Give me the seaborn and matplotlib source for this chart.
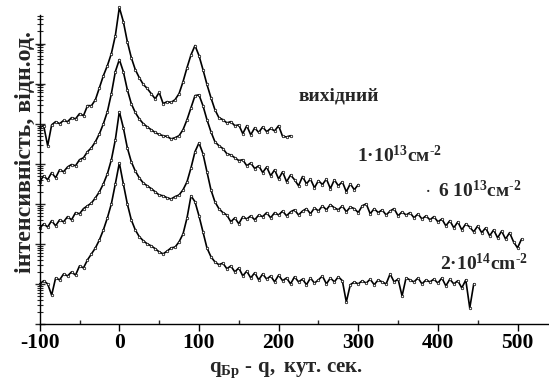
import numpy as np
import pandas as pd
import matplotlib
matplotlib.use("Agg")
import matplotlib.pyplot as plt
import seaborn as sns
from matplotlib.ticker import LogLocator, NullFormatter, MultipleLocator

# ---- data: log10(intensity) sampled every 5 arcsec starting at -100 ----
x_start = -100
x_step = 5

log_int_initial = [4.92, 4.95, 4.45, 4.97, 5.05, 5.0, 5.08, 5.05, 5.15, 5.12,
                   5.25, 5.2, 5.45, 5.45, 5.6, 5.9, 6.2, 6.45, 6.75, 7.2,
                   7.9, 7.55, 7.05, 6.65, 6.35, 6.15, 5.98, 5.88, 5.75, 5.62,
                   5.78, 5.5, 5.55, 5.53, 5.6, 5.75, 6.05, 6.4, 6.72, 6.95,
                   6.7, 6.35, 5.98, 5.65, 5.35, 5.15, 5.1, 5.02, 5.05, 4.95,
                   4.97, 4.75, 4.95, 4.72, 4.9, 4.78, 4.92, 4.8, 4.88, 4.82,
                   4.95, 4.68, 4.67, 4.7]

log_int_1e13 = [3.55, 3.7, 3.6, 3.78, 3.65, 3.85, 3.8, 3.92, 3.98, 3.95,
                4.1, 4.15, 4.3, 4.4, 4.55, 4.75, 5.0, 5.3, 5.75, 6.3,
                6.6, 6.3, 5.85, 5.5, 5.28, 5.12, 5.0, 4.92, 4.85, 4.78,
                4.73, 4.7, 4.68, 4.62, 4.65, 4.7, 4.85, 5.1, 5.4, 5.7,
                5.72, 5.45, 5.1, 4.8, 4.55, 4.45, 4.38, 4.25, 4.22, 4.15,
                4.08, 4.1, 3.95, 4.02, 3.88, 3.95, 3.78, 3.92, 3.7, 3.85,
                3.62, 3.8, 3.55, 3.72, 3.6, 3.45, 3.68, 3.5, 3.62, 3.4,
                3.58, 3.48, 3.62, 3.38, 3.6, 3.45, 3.55, 3.3, 3.5, 3.35,
                3.48]

log_int_6e13 = [2.39, 2.5, 2.42, 2.58, 2.45, 2.6, 2.55, 2.68, 2.6, 2.78,
                2.75, 2.88, 2.95, 3.02, 3.15, 3.3, 3.5, 3.75, 4.1, 4.6,
                5.3, 4.9, 4.4, 4.05, 3.82, 3.65, 3.52, 3.45, 3.38, 3.3,
                3.22, 3.2, 3.15, 3.12, 3.18, 3.22, 3.35, 3.55, 3.9, 4.3,
                4.52, 4.25, 3.8, 3.35, 3.05, 2.88, 2.78, 2.72, 2.55, 2.65,
                2.5, 2.68, 2.62, 2.7, 2.6, 2.72, 2.68, 2.78, 2.65, 2.78,
                2.72, 2.82, 2.7, 2.8, 2.85, 2.72, 2.82, 2.88, 2.75, 2.9,
                2.82, 2.95, 2.85, 2.98, 2.9, 2.85, 2.95, 2.8, 2.92, 2.88,
                2.78, 2.95, 3.0, 2.75, 2.88, 2.78, 2.85, 2.72, 2.82, 2.88,
                2.7, 2.8, 2.72, 2.78, 2.65, 2.75, 2.62, 2.7, 2.6, 2.68,
                2.55, 2.62, 2.45, 2.58, 2.4, 2.55, 2.35, 2.5, 2.42, 2.3,
                2.45, 2.28, 2.4, 2.2, 2.35, 2.15, 2.32, 2.12, 2.28, 2.05,
                1.9, 2.12]

log_int_2e14 = [1.0, 1.08, 1.0, 0.72, 1.15, 1.1, 1.25, 1.2, 1.3, 1.22,
                1.45, 1.4, 1.6, 1.75, 1.9, 2.1, 2.35, 2.65, 3.0, 3.5,
                4.02, 3.5, 3.0, 2.6, 2.35, 2.18, 2.08, 2.0, 1.95, 1.88,
                1.8, 1.75, 1.82, 1.9, 1.92, 2.05, 2.25, 2.65, 3.2, 3.05,
                2.7, 2.3, 1.9, 1.68, 1.55, 1.48, 1.52, 1.38, 1.45, 1.3,
                1.4, 1.2, 1.32, 1.15, 1.28, 1.1, 1.25, 1.12, 1.2, 1.05,
                1.22, 1.08, 1.15, 1.0, 1.18, 1.05, 1.12, 0.98, 1.15, 1.02,
                1.1, 1.2, 1.0, 1.15, 1.05, 1.18, 1.08, 0.55, 0.98, 1.05,
                1.0, 1.08, 1.02, 1.12, 0.98, 1.1, 1.05, 1.0, 1.25, 1.05,
                1.12, 0.7, 1.15, 1.1, 1.05, 1.15, 1.0, 1.1, 1.05, 1.12,
                1.02, 1.15, 0.95, 1.12, 1.0, 1.08, 0.9, 1.1, 0.4, 1.0]

x_ticks = [-100, 0, 100, 200, 300, 400, 500]
x_tick_labels = ["-100", "0", "100", "200", "300", "400", "500"]

labels = ["вихідний",
          r"1·10$^{13}$см$^{\text{-}2}$",
          r"6 10$^{13}$см$^{\text{-}2}$",
          r"2·10$^{14}$cm$^{\text{-}2}$"]

# ---- style ----
sns.set_style("ticks")
plt.rcParams["font.family"] = ["Liberation Serif", "DejaVu Serif"]
plt.rcParams["font.weight"] = "bold"
plt.rcParams["mathtext.fontset"] = "custom"
plt.rcParams["mathtext.rm"] = "Liberation Serif:bold"
plt.rcParams["mathtext.it"] = "Liberation Serif:bold"
plt.rcParams["mathtext.bf"] = "Liberation Serif:bold"
plt.rcParams["mathtext.sf"] = "Liberation Serif"

fig = plt.figure(figsize=(5.49, 3.85), dpi=100)
ax = fig.add_axes([39.7 / 549, 1 - 324 / 385, 1 - 39.7 / 549, (324 - 14.7) / 385])

frames = []
for name, arr in [("initial", log_int_initial), ("1e13", log_int_1e13),
                  ("6e13", log_int_6e13), ("2e14", log_int_2e14)]:
    n = len(arr)
    xs = np.arange(n) * x_step + x_start
    frames.append(pd.DataFrame({"q": xs, "I": np.power(10.0, np.array(arr)),
                                "sample": name}))
df = pd.concat(frames, ignore_index=True)

for name in ["initial", "1e13", "6e13", "2e14"]:
    sub = df[df["sample"] == name]
    sns.lineplot(data=sub, x="q", y="I", ax=ax, color="black", lw=1.2,
                 marker="o", markersize=1.8, markerfacecolor="white",
                 markeredgecolor="black", markeredgewidth=0.5,
                 estimator=None, sort=True, clip_on=False, legend=False)

ax.set_yscale("log")
ax.set_xlim(-100, 539.5)
ax.set_ylim(1, 10 ** 7.72)
ax.yaxis.set_major_locator(LogLocator(base=10, numticks=20))
ax.yaxis.set_minor_locator(LogLocator(base=10, subs=np.arange(2, 10), numticks=20))
ax.yaxis.set_major_formatter(NullFormatter())
ax.yaxis.set_minor_formatter(NullFormatter())
ax.set_xticks(x_ticks)
ax.set_xticklabels(x_tick_labels)
ax.xaxis.set_minor_locator(MultipleLocator(50))
for lab in ax.get_xticklabels():
    lab.set_fontsize(15.5)
    lab.set_fontweight("bold")

sns.despine(ax=ax, top=True, right=True)
for s in ["left", "bottom"]:
    ax.spines[s].set_linewidth(1.0)
    ax.spines[s].set_color("black")
ax.tick_params(axis="x", which="major", direction="out", length=5, width=1, pad=1.5, colors="black")
ax.tick_params(axis="x", which="minor", direction="in", length=3, width=1)
ax.tick_params(axis="y", which="major", direction="inout", length=7, width=1)
ax.tick_params(axis="y", which="minor", direction="inout", length=4, width=0.8)
ax.set_xlabel("")
ax.set_ylabel("")
ax.patch.set_alpha(0)

# annotations
ax.text(276, 10 ** 5.69, labels[0], fontsize=14, fontweight="bold", ha="center", va="center")
ax.text(298.6, 10 ** 4.21, labels[1], fontsize=14, fontweight="bold", ha="left", va="center")
ax.text(387.5, 10 ** 3.28, "·", fontsize=10, fontweight="bold", ha="center", va="center")
ax.text(400, 10 ** 3.34, labels[2], fontsize=14, fontweight="bold", ha="left", va="center")
ax.text(403, 10 ** 1.51, labels[3], fontsize=14, fontweight="bold", ha="left", va="center")

fig.text(25 / 549, 1 - 152 / 385, "інтенсивність, відн.од.", rotation=90,
         fontsize=17.2, fontweight="bold", ha="center", va="center")
fig.text(286 / 549, 1 - 370 / 385, r"$\mathsf{q}_{\mathrm{Бр}}\mathsf{\ \text{-}\ q,}$ кут. сек.",
         fontsize=15, fontweight="bold", ha="center", va="center")

fig.savefig("out.png", dpi=100)
